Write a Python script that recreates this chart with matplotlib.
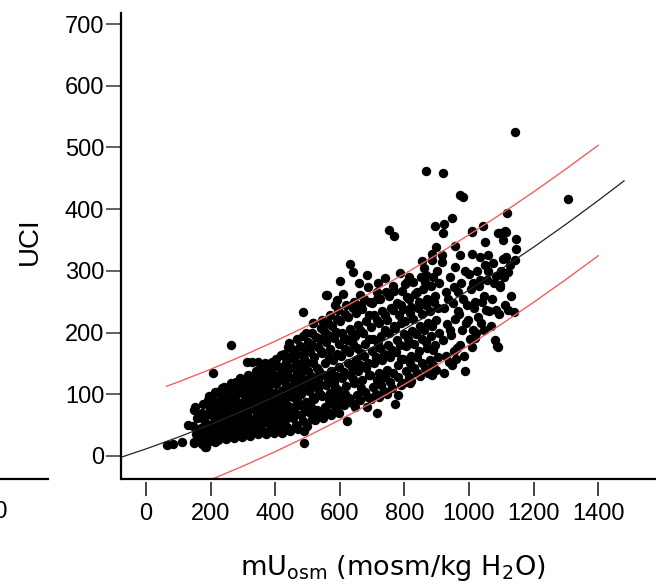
import matplotlib
matplotlib.use("Agg")
import matplotlib.pyplot as plt
import numpy as np

plt.rcParams['font.family'] = ['Liberation Sans', 'DejaVu Sans']
plt.rcParams['mathtext.fontset'] = 'dejavusans'

# urine osmolality (mosm/kg H2O) vs UCI
low_cluster = [
    (148, 22), (155, 35), (146, 48), (158, 62), (150, 74), (161, 28),
    (172, 20), (178, 33), (170, 45), (181, 58), (174, 70), (177, 84), (185, 40),
    (197, 24), (204, 38), (196, 50), (207, 64), (199, 77), (203, 90), (195, 98), (210, 30),
    (222, 26), (229, 40), (220, 53), (232, 66), (224, 79), (230, 92), (221, 104), (227, 33),
    (233, 58), (236, 110),
    (247, 27), (254, 42), (245, 55), (256, 69), (249, 82), (253, 95), (246, 108), (251, 36),
    (258, 75), (244, 62), (260, 114),
    (272, 29), (279, 44), (270, 57), (281, 71), (274, 85), (278, 99), (271, 112), (283, 38),
    (268, 92), (276, 64), (280, 120), (286, 52),
    (297, 31), (304, 46), (295, 60), (306, 74), (299, 88), (303, 101), (296, 115), (308, 124),
    (301, 40), (294, 80), (305, 66), (310, 95),
    (322, 33), (329, 48), (320, 62), (331, 77), (324, 90), (328, 104), (321, 118), (332, 129),
    (326, 55), (319, 97), (330, 41), (335, 112),
    (347, 35), (354, 50), (345, 65), (356, 80), (349, 94), (353, 108), (346, 122), (357, 135),
    (351, 58), (344, 88), (360, 142), (361, 72),
    (372, 36), (379, 53), (370, 68), (381, 83), (374, 97), (378, 112), (371, 126), (382, 140),
    (376, 148), (369, 75), (385, 104), (386, 45),
    (397, 37), (404, 56), (395, 71), (406, 87), (399, 102), (403, 117), (396, 132), (407, 146),
    (401, 158), (394, 64), (410, 94), (411, 124),
    (422, 38), (429, 59), (420, 75), (431, 91), (424, 107), (428, 122), (421, 137), (432, 152),
    (426, 166), (419, 50), (436, 83), (437, 114),
    (447, 40), (454, 62), (445, 79), (456, 95), (449, 111), (453, 127), (446, 143), (457, 158),
    (451, 173), (444, 183), (460, 70), (461, 103),
    (472, 44), (479, 66), (470, 83), (481, 100), (474, 116), (478, 132), (471, 148), (482, 163),
    (476, 178), (469, 91), (486, 124), (487, 56),
    (497, 48), (504, 71), (495, 88), (506, 105), (499, 121), (503, 137), (496, 153), (507, 168),
    (501, 185), (494, 199), (510, 79), (511, 113),
]

low_fill = [
    (187, 27), (190, 52), (186, 66), (191, 91),
    (212, 44), (215, 57), (211, 71), (216, 84), (213, 103), (214, 22),
    (238, 31), (240, 47), (237, 73), (241, 86), (239, 99), (242, 112),
    (263, 33), (265, 49), (262, 62), (266, 80), (264, 102), (263, 119),
    (288, 35), (290, 59), (287, 78), (291, 86), (289, 106), (292, 127),
    (313, 37), (316, 53), (312, 70), (317, 84), (314, 108), (315, 132),
    (338, 39), (340, 60), (337, 74), (341, 98), (339, 116), (342, 137),
    (363, 41), (366, 63), (362, 90), (367, 101), (364, 117), (365, 131), (368, 150),
    (388, 42), (390, 60), (387, 78), (391, 96), (389, 118), (392, 133), (390, 152),
    (413, 45), (416, 66), (412, 82), (417, 104), (414, 131), (415, 144), (418, 163),
    (438, 47), (440, 68), (437, 99), (441, 130), (439, 145), (442, 160), (440, 176),
    (463, 50), (466, 86), (462, 120), (467, 136), (464, 150), (465, 166), (468, 190),
    (488, 40), (490, 77), (487, 109), (491, 142), (489, 157), (492, 172), (485, 194),
    (513, 60), (516, 95), (512, 130), (517, 150), (514, 180), (515, 200),
]

mid_cluster = [
    (522, 58), (529, 75), (520, 92), (531, 109), (524, 126), (528, 143), (521, 160), (532, 176),
    (526, 193), (518, 215), (523, 66), (535, 118),
    (547, 62), (554, 80), (545, 97), (556, 115), (549, 132), (553, 150), (546, 167), (557, 185),
    (551, 202), (544, 220), (557, 261),
    (572, 66), (579, 84), (570, 102), (581, 120), (574, 138), (578, 156), (571, 174), (582, 192),
    (576, 210), (569, 228), (585, 111),
    (597, 70), (604, 89), (595, 107), (606, 126), (599, 144), (603, 162), (596, 181), (607, 199),
    (601, 218), (594, 236), (602, 283), (590, 253),
    (621, 56), (629, 94), (620, 113), (631, 132), (624, 150), (628, 169), (621, 188), (632, 206),
    (626, 225), (619, 244), (631, 311), (641, 299),
    (647, 80), (654, 99), (645, 118), (656, 137), (649, 156), (653, 175), (646, 194), (657, 213),
    (651, 232), (644, 250), (662, 261),
    (683, 80), (679, 104), (670, 123), (681, 142), (674, 162), (678, 181), (671, 200), (682, 219),
    (668, 238), (676, 255), (685, 293), (688, 274),
    (697, 92), (704, 111), (695, 131), (706, 150), (699, 170), (703, 189), (696, 209), (707, 228),
    (701, 248), (714, 266), (714, 69),
    (722, 95), (729, 115), (720, 135), (731, 155), (724, 175), (728, 195), (721, 215), (732, 235),
    (726, 255), (739, 288), (719, 280),
    (747, 100), (754, 120), (745, 140), (756, 160), (749, 180), (753, 200), (746, 220), (757, 240),
    (751, 260), (752, 367), (767, 357),
    (770, 84), (781, 99), (779, 128), (781, 148), (774, 168), (778, 188), (771, 208), (782, 228),
    (776, 248), (769, 268), (786, 296),
    (797, 118), (804, 138), (795, 158), (806, 178), (799, 198), (803, 218), (796, 238), (807, 258),
    (801, 278), (807, 282), (817, 118),
    (822, 122), (829, 142), (820, 162), (831, 182), (824, 202), (828, 222), (821, 242), (832, 262),
    (826, 282),
    (847, 130), (854, 150), (845, 170), (856, 190), (849, 210), (853, 230), (846, 250), (857, 270),
    (851, 290), (855, 316),
    (872, 135), (879, 155), (870, 175), (881, 195), (874, 215), (878, 235), (871, 255), (882, 275),
    (868, 293), (884, 328), (884, 132),
    (897, 140), (904, 160), (895, 180), (906, 200), (899, 220), (903, 240), (896, 260), (907, 280),
    (901, 300), (899, 339), (894, 372),
]

mid_fill = [
    (538, 70), (540, 101), (537, 137), (541, 170), (539, 189), (542, 208),
    (563, 72), (566, 90), (562, 124), (567, 160), (564, 196), (565, 215),
    (588, 78), (590, 95), (587, 130), (591, 166), (589, 201), (592, 222), (586, 245),
    (613, 82), (616, 100), (612, 136), (617, 173), (614, 192), (615, 230), (611, 262),
    (638, 86), (640, 125), (637, 145), (641, 181), (639, 200), (642, 240),
    (663, 90), (666, 110), (662, 147), (667, 167), (664, 205), (665, 245), (660, 280),
    (688, 95), (690, 132), (687, 150), (691, 190), (689, 228), (692, 250),
    (713, 100), (716, 123), (712, 160), (717, 182), (714, 220), (715, 255),
    (738, 106), (740, 128), (737, 166), (741, 205), (739, 228), (742, 265),
    (763, 110), (766, 135), (762, 172), (767, 210), (764, 236), (765, 275),
    (788, 115), (790, 157), (787, 180), (791, 215), (789, 245), (792, 268),
    (813, 128), (816, 150), (812, 190), (817, 232), (814, 255), (815, 290),
    (838, 135), (840, 160), (837, 198), (841, 240), (839, 265),
    (863, 142), (866, 185), (862, 205), (867, 245), (864, 282), (861, 305),
    (888, 148), (890, 172), (887, 210), (891, 250), (889, 290), (886, 318),
]

high_cluster = [
    (922, 134), (929, 162), (920, 188), (931, 214), (924, 240), (928, 266), (915, 315), (915, 325),
    (920, 362), (922, 376),
    (946, 147), (954, 170), (945, 196), (956, 222), (949, 248), (953, 274), (961, 158), (958, 341),
    (948, 385), (956, 307),
    (972, 180), (979, 205), (970, 230), (981, 255), (974, 280), (987, 137), (971, 326), (971, 423),
    (982, 419),
    (997, 220), (1004, 190), (995, 245), (1006, 270), (999, 295), (1008, 176), (1018, 192),
    (1008, 328), (1008, 363), (1010, 365),
    (1022, 200), (1029, 225), (1020, 250), (1031, 275), (1033, 285), (1033, 323), (1024, 300),
    (1047, 205), (1054, 237), (1045, 260), (1056, 285), (1049, 310), (1059, 326), (1044, 372),
    (1049, 347),
    (1067, 211), (1080, 188), (1088, 179), (1085, 237), (1073, 312), (1085, 291), (1070, 255),
    (1078, 280), (1090, 361),
    (1095, 274), (1097, 277), (1095, 361), (1104, 350), (1113, 365), (1100, 300), (1090, 177),
    (1092, 230), (1105, 320),
    (1121, 237), (1140, 234), (1121, 298), (1116, 323), (1118, 394), (1116, 363), (1142, 318),
    (1145, 335), (1145, 351), (1130, 260),
    (937, 152), (940, 205), (936, 255), (941, 290), (962, 175), (966, 235), (965, 265),
    (986, 162), (990, 215), (988, 300), (1012, 205), (1015, 240), (1013, 280), (1037, 215),
    (1040, 250), (1062, 235), (1060, 300), (1110, 245), (1108, 290), (1128, 310),
]

outliers = [
    (64, 18), (85, 20), (110, 23), (131, 50), (152, 80), (150, 21), (183, 14), (186, 15),
    (208, 135), (263, 180), (312, 153), (327, 153), (347, 153), (489, 21), (523, 66),
    (487, 234), (518, 215), (559, 261), (866, 462), (920, 459), (1144, 525), (1305, 417),
]

# fitted curve and 95% prediction band
fit_x = [-80, 0, 100, 200, 300, 400, 500, 600, 700, 800, 900, 1000, 1100, 1200, 1300, 1400, 1480]
fit_y = [-2.6, 11.5, 30.5, 51.0, 73.0, 96.5, 121.5, 148.0, 176.0, 205.5, 236.5, 269.0, 303.0,
         338.5, 375.5, 414.0, 445.9]
band_x = [64, 100, 200, 300, 400, 500, 600, 700, 800, 900, 1000, 1100, 1200, 1300, 1400]
band_upper = [113.0, 120.0, 140.5, 162.5, 186.0, 211.0, 237.5, 265.5, 295.0, 326.0, 358.5,
              392.5, 428.0, 465.0, 503.5]
band_lower = [-66.0, -59.0, -38.5, -16.5, 7.0, 32.0, 58.5, 86.5, 116.0, 147.0, 179.5,
              213.5, 249.0, 286.0, 324.5]

x_ticks = [0, 200, 400, 600, 800, 1000, 1200, 1400]
y_ticks = [0, 100, 200, 300, 400, 500, 600, 700]

points = np.array(low_cluster + low_fill + mid_cluster + mid_fill + high_cluster + outliers)

fig = plt.figure(figsize=(6.56, 5.85), dpi=100)

# remnant of the neighbouring panel on the left
ax_left = fig.add_axes([-0.3, 0.1812, 0.3 + 48 / 656, 0.7966])
for side in ['top', 'right', 'left']:
    ax_left.spines[side].set_visible(False)
ax_left.spines['bottom'].set_linewidth(1.6)
ax_left.set_xticks([])
ax_left.set_yticks([])
ax_left.patch.set_alpha(0)
fig.text(7.5 / 656, (585 - 512) / 585, '1400', ha='right', va='center', fontsize=17)

ax = fig.add_axes([121 / 656, 0.1812, 535 / 656, 0.7966])
ax.scatter(points[:, 0], points[:, 1], s=46, color='black', linewidths=0, zorder=2)
ax.plot(fit_x, fit_y, color='#222222', lw=0.9, zorder=3)
ax.plot(band_x, band_upper, color='#f06060', lw=1.0, zorder=3)
ax.plot(band_x, band_lower, color='#f06060', lw=1.0, zorder=3)

ax.set_xlim(-77.4, 1579)
ax.set_ylim(-37.3, 718)
ax.set_xticks(x_ticks)
ax.set_yticks(y_ticks)

ax.spines['top'].set_visible(False)
ax.spines['right'].set_visible(False)
ax.spines['left'].set_linewidth(1.6)
# detached x ticks: ticks hang from a hidden spine a little below the drawn one
ax.spines['bottom'].set_position(('outward', 2.2))
ax.spines['bottom'].set_visible(False)
ax.plot([0, 1], [0, 0], transform=ax.transAxes, color='black', lw=1.6,
        clip_on=False, solid_capstyle='butt', zorder=4)

ax.tick_params(axis='y', direction='out', length=11, width=1.1, color='#333333',
               pad=1, labelsize=17)
ax.tick_params(axis='x', direction='out', length=10, width=1.4, color='#444444',
               pad=5, labelsize=17)

ax.set_ylabel('UCI', fontsize=20)
ax.yaxis.set_label_coords(-0.146, 0.51)
ax.set_xlabel(r'mU$_{\mathrm{osm}}$ (mosm/kg H$_{\mathrm{2}}$O)', fontsize=19.5,
              family='DejaVu Sans')
ax.xaxis.set_label_coords(0.5075, -0.158)

fig.savefig('out.png', dpi=100)
